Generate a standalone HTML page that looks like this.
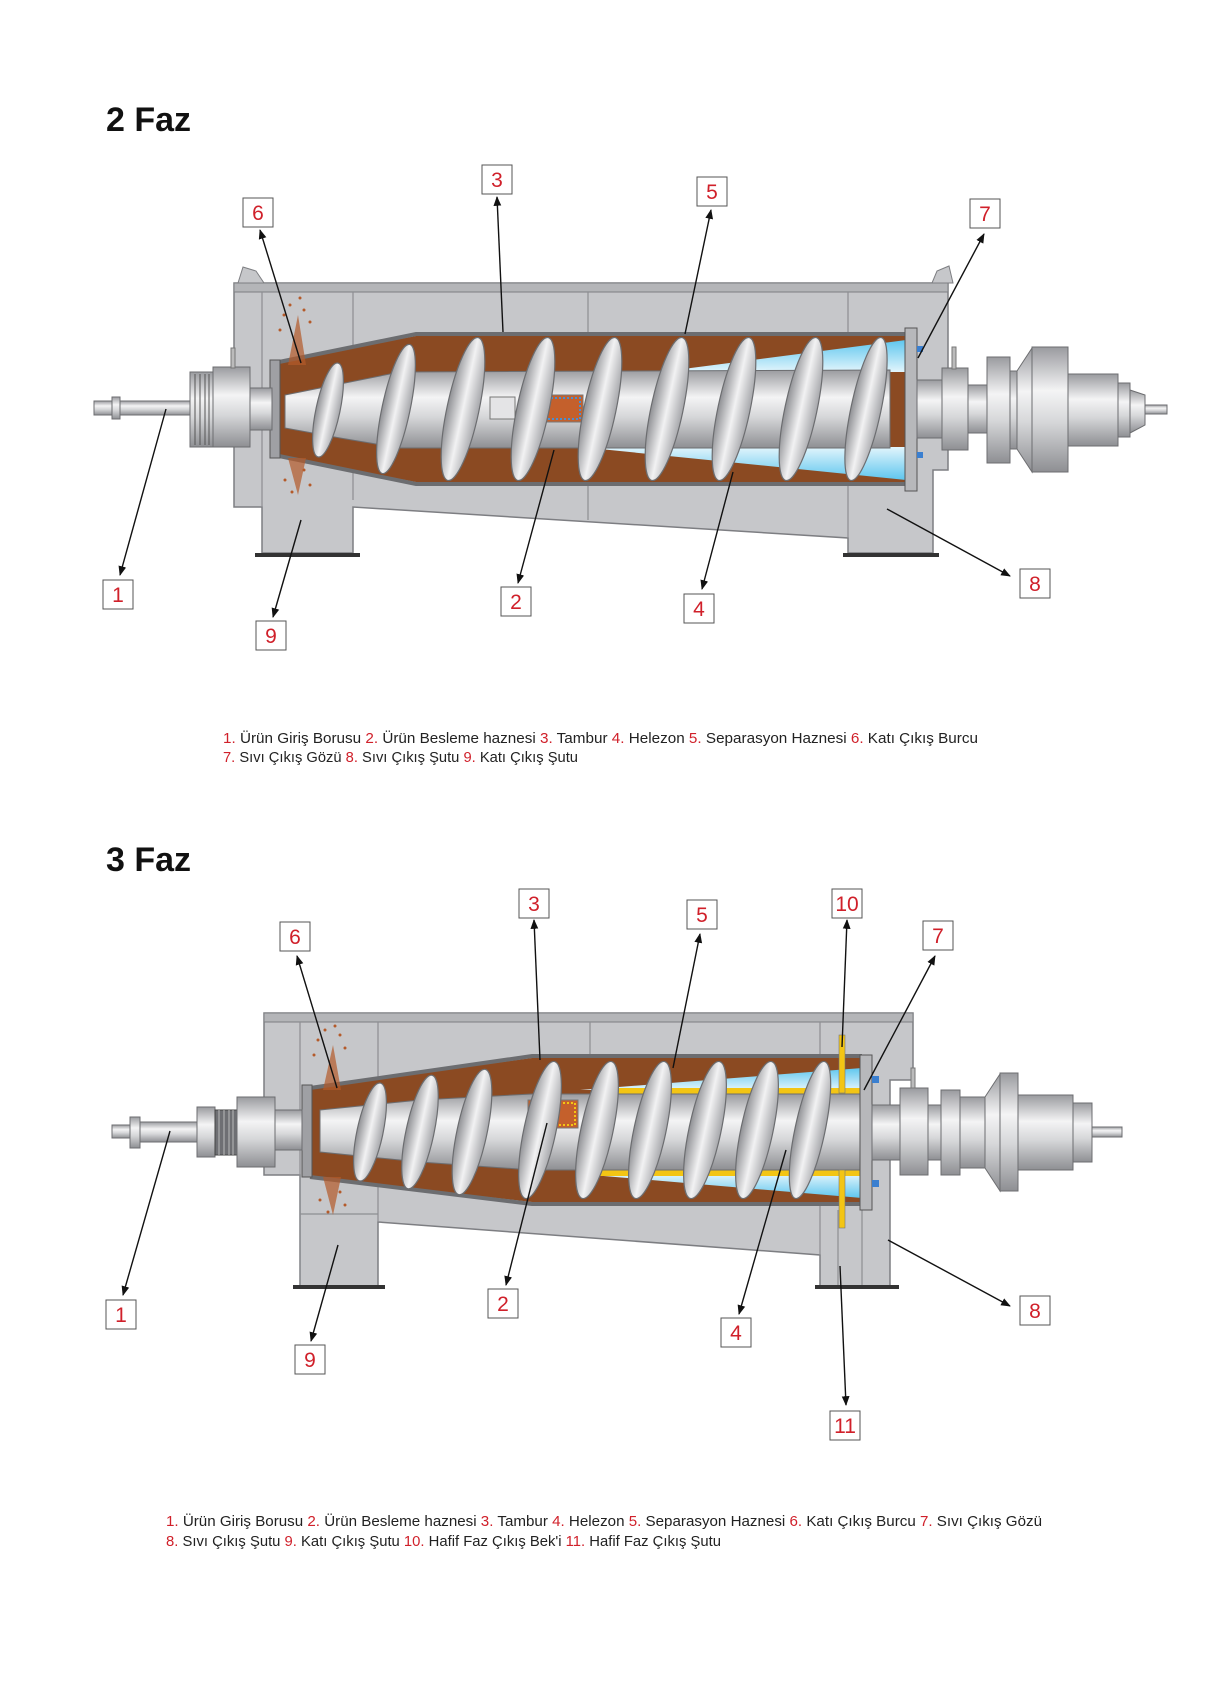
<!DOCTYPE html>
<html><head><meta charset="utf-8"><style>
html,body{margin:0;padding:0;background:#fff;}
svg{display:block;}
text{font-family:"Liberation Sans",sans-serif;}
.n{fill:#d0202a;font-size:21px;text-anchor:middle;}
.b{fill:#fff;stroke:#555;stroke-width:1;}
.a{stroke:#111;stroke-width:1.4;fill:none;marker-end:url(#ar);}
.lg{font-size:14.5px;fill:#222;}
.r{fill:#d0202a;}
.h{fill:#c6c7ca;stroke:#7d7e82;stroke-width:1.5;}
.hl{stroke:#8d8e92;stroke-width:1.2;fill:none;}
.fl{fill:url(#fg);stroke:#6c6d70;stroke-width:1.2;}
.m{fill:url(#sv);stroke:#6c6d70;stroke-width:1;}
</style></head><body>
<svg width="1209" height="1691" viewBox="0 0 1209 1691" xmlns="http://www.w3.org/2000/svg">
<defs>
<marker id="ar" viewBox="0 0 10 10" refX="9" refY="5" markerWidth="7" markerHeight="7" orient="auto"><path d="M0,1 L10,5 L0,9 z" fill="#111"/></marker>
<linearGradient id="sv" x1="0" y1="0" x2="0" y2="1"><stop offset="0" stop-color="#9a9b9f"/><stop offset="0.35" stop-color="#f4f4f5"/><stop offset="0.6" stop-color="#d6d7d9"/><stop offset="1" stop-color="#8e8f93"/></linearGradient>
<linearGradient id="fg" x1="0" y1="0" x2="1" y2="0"><stop offset="0" stop-color="#8f9094"/><stop offset="0.5" stop-color="#f2f2f3"/><stop offset="1" stop-color="#a5a6aa"/></linearGradient>
<linearGradient id="bl" x1="0" y1="0" x2="0" y2="1"><stop offset="0" stop-color="#5ec6ee"/><stop offset="1" stop-color="#e2f5fc"/></linearGradient>
<linearGradient id="bl2" x1="0" y1="1" x2="0" y2="0"><stop offset="0" stop-color="#5ec6ee"/><stop offset="1" stop-color="#e2f5fc"/></linearGradient>
</defs>

<text x="106" y="131" style="font-size:34px;font-weight:bold;fill:#111">2 Faz</text>

<g>
<polygon class="h" points="234,283 948,283 948,470 933,470 933,553 848,553 848,538 353,507 353,553 262,553 262,507 234,507"/>
<rect x="234" y="283" width="714" height="9" fill="#b4b5b8" stroke="#7d7e82"/>
<path d="M238,283 l5,-16 l13,4 l8,12 z M932,283 l5,-12 l12,-5 l4,17 z" fill="#c6c7ca" stroke="#7d7e82"/>
<line class="hl" x1="262" y1="292" x2="262" y2="507"/><line class="hl" x1="353" y1="292" x2="353" y2="500"/>
<line class="hl" x1="588" y1="292" x2="588" y2="336"/><line class="hl" x1="848" y1="292" x2="848" y2="538"/>
<line class="hl" x1="588" y1="482" x2="588" y2="520"/>
<rect x="255" y="553" width="105" height="4" fill="#333"/><rect x="843" y="553" width="96" height="4" fill="#333"/>
<polygon points="274,363 416,336 906,336 906,482 416,482 274,455" fill="#8b4a22"/>
<polygon points="660,372 906,340 906,372" fill="url(#bl)"/>
<polygon points="580,447 906,447 906,480" fill="url(#bl2)"/>
<path d="M274,363 L416,334 L906,334" stroke="#6c6d70" stroke-width="4" fill="none"/>
<path d="M274,455 L416,484 L906,484" stroke="#6c6d70" stroke-width="4" fill="none"/>
<rect x="270" y="360" width="10" height="98" fill="#9fa0a4" stroke="#555"/>
<polygon class="m" points="285,395 340,384 400,372 890,370 890,448 400,448 340,438 285,428"/>
<rect x="490" y="397" width="25" height="22" fill="#e4e4e6" stroke="#777"/>
<rect x="528" y="395" width="55" height="27" fill="#c4602c" stroke="#777"/>
<rect x="531" y="398" width="49" height="21" fill="none" stroke="#4a8ed0" stroke-dasharray="2,2" stroke-width="2"/>
<g>
<ellipse class="fl" cx="328" cy="410" rx="12" ry="48" transform="rotate(12 328 410)"/>
<ellipse class="fl" cx="396" cy="409" rx="14" ry="66" transform="rotate(12 396 409)"/>
<ellipse class="fl" cx="463" cy="409" rx="16" ry="73" transform="rotate(12 463 409)"/>
<ellipse class="fl" cx="533" cy="409" rx="16" ry="73" transform="rotate(12 533 409)"/>
<ellipse class="fl" cx="600" cy="409" rx="16" ry="73" transform="rotate(12 600 409)"/>
<ellipse class="fl" cx="667" cy="409" rx="16" ry="73" transform="rotate(12 667 409)"/>
<ellipse class="fl" cx="734" cy="409" rx="16" ry="73" transform="rotate(12 734 409)"/>
<ellipse class="fl" cx="801" cy="409" rx="16" ry="73" transform="rotate(12 801 409)"/>
<ellipse class="fl" cx="866" cy="409" rx="15" ry="73" transform="rotate(12 866 409)"/>
</g>
<rect x="905" y="328" width="12" height="163" fill="#b7b8bb" stroke="#555"/>
<rect x="917" y="346" width="6" height="6" fill="#3a7fd0"/><rect x="917" y="452" width="6" height="6" fill="#3a7fd0"/>
<path d="M288,365 L298,315 L306,365 z M288,458 L298,495 L306,458 z" fill="#b45a2a" opacity="0.7"/>
<g fill="#b45a2a"><circle cx="284" cy="315" r="1.5"/><circle cx="290" cy="305" r="1.5"/><circle cx="304" cy="310" r="1.5"/><circle cx="310" cy="322" r="1.5"/><circle cx="280" cy="330" r="1.5"/><circle cx="300" cy="298" r="1.5"/><circle cx="285" cy="480" r="1.5"/><circle cx="310" cy="485" r="1.5"/><circle cx="292" cy="492" r="1.5"/><circle cx="304" cy="470" r="1.5"/></g>
<rect class="m" x="94" y="401" width="96" height="14"/>
<rect class="m" x="112" y="397" width="8" height="22"/>
<rect class="m" x="190" y="372" width="23" height="75"/>
<g stroke="#555"><line x1="195" y1="374" x2="195" y2="445"/><line x1="200" y1="374" x2="200" y2="445"/><line x1="205" y1="374" x2="205" y2="445"/><line x1="209" y1="374" x2="209" y2="445"/></g>
<rect class="m" x="213" y="367" width="37" height="80"/>
<rect class="m" x="250" y="388" width="22" height="42"/>
<rect x="231" y="348" width="4" height="20" fill="#bbb" stroke="#777"/>
<rect class="m" x="917" y="380" width="25" height="58"/>
<rect class="m" x="942" y="368" width="26" height="82"/>
<rect x="952" y="347" width="4" height="22" fill="#bbb" stroke="#777"/>
<rect class="m" x="968" y="385" width="19" height="48"/>
<rect class="m" x="987" y="357" width="23" height="106"/>
<rect class="m" x="1010" y="371" width="7" height="78"/>
<polygon class="m" points="1017,371 1032,348 1032,472 1017,449"/>
<rect class="m" x="1032" y="347" width="36" height="125"/>
<rect class="m" x="1068" y="374" width="50" height="72"/>
<rect class="m" x="1118" y="383" width="12" height="54"/>
<polygon class="m" points="1130,390 1145,395 1145,425 1130,433"/>
<rect class="m" x="1145" y="405" width="22" height="9"/>
</g>

<line class="a" x1="301" y1="363" x2="260" y2="230"/>
<line class="a" x1="503" y1="332" x2="497" y2="197"/>
<line class="a" x1="685" y1="334" x2="711" y2="210"/>
<line class="a" x1="918" y1="358" x2="984" y2="234"/>
<line class="a" x1="166" y1="409" x2="120" y2="575"/>
<line class="a" x1="301" y1="520" x2="273" y2="617"/>
<line class="a" x1="554" y1="450" x2="518" y2="583"/>
<line class="a" x1="733" y1="472" x2="702" y2="589"/>
<line class="a" x1="887" y1="509" x2="1010" y2="576"/>
<g>
<rect class="b" x="243" y="198" width="30" height="29"/><text class="n" x="258" y="220">6</text>
<rect class="b" x="482" y="165" width="30" height="29"/><text class="n" x="497" y="187">3</text>
<rect class="b" x="697" y="177" width="30" height="29"/><text class="n" x="712" y="199">5</text>
<rect class="b" x="970" y="199" width="30" height="29"/><text class="n" x="985" y="221">7</text>
<rect class="b" x="103" y="580" width="30" height="29"/><text class="n" x="118" y="602">1</text>
<rect class="b" x="256" y="621" width="30" height="29"/><text class="n" x="271" y="643">9</text>
<rect class="b" x="501" y="587" width="30" height="29"/><text class="n" x="516" y="609">2</text>
<rect class="b" x="684" y="594" width="30" height="29"/><text class="n" x="699" y="616">4</text>
<rect class="b" x="1020" y="569" width="30" height="29"/><text class="n" x="1035" y="591">8</text>
</g>
<text class="lg" x="223" y="743" textLength="755" lengthAdjust="spacingAndGlyphs"><tspan class="r">1.</tspan> Ürün Giriş Borusu  <tspan class="r">2.</tspan> Ürün Besleme haznesi  <tspan class="r">3.</tspan> Tambur  <tspan class="r">4.</tspan> Helezon  <tspan class="r">5.</tspan> Separasyon Haznesi  <tspan class="r">6.</tspan> Katı Çıkış Burcu</text>
<text class="lg" x="223" y="762" textLength="355" lengthAdjust="spacingAndGlyphs"><tspan class="r">7.</tspan> Sıvı Çıkış Gözü  <tspan class="r">8.</tspan> Sıvı Çıkış Şutu  <tspan class="r">9.</tspan> Katı Çıkış Şutu</text>

<text x="106" y="871" style="font-size:34px;font-weight:bold;fill:#111">3 Faz</text>

<g>
<polygon class="h" points="264,1013 913,1013 913,1080 890,1080 890,1287 820,1287 820,1255 378,1222 378,1287 300,1287 300,1175 264,1175"/>
<rect x="264" y="1013" width="649" height="9" fill="#b4b5b8" stroke="#7d7e82"/>
<line class="hl" x1="300" y1="1022" x2="300" y2="1287"/><line class="hl" x1="378" y1="1022" x2="378" y2="1222"/>
<line class="hl" x1="590" y1="1022" x2="590" y2="1058"/><line class="hl" x1="820" y1="1022" x2="820" y2="1255"/>
<line class="hl" x1="300" y1="1214" x2="378" y2="1214"/>
<line class="hl" x1="838" y1="1210" x2="838" y2="1287"/><line class="hl" x1="862" y1="1210" x2="862" y2="1287"/>
<rect x="293" y="1285" width="92" height="4" fill="#333"/><rect x="815" y="1285" width="84" height="4" fill="#333"/>
<polygon points="310,1088 532,1058 862,1058 862,1202 532,1202 310,1177" fill="#8b4a22"/>
<polygon points="580,1090 862,1068 862,1090" fill="url(#bl)"/>
<polygon points="580,1174 862,1174 862,1198" fill="url(#bl2)"/>
<rect x="600" y="1088" width="262" height="6" fill="#f3c514"/>
<rect x="600" y="1170" width="262" height="6" fill="#f3c514"/>
<path d="M310,1088 L532,1056 L862,1056" stroke="#6c6d70" stroke-width="4" fill="none"/>
<path d="M310,1177 L532,1204 L862,1204" stroke="#6c6d70" stroke-width="4" fill="none"/>
<rect x="302" y="1085" width="10" height="92" fill="#9fa0a4" stroke="#555"/>
<polygon class="m" points="320,1110 420,1100 532,1094 862,1094 862,1170 532,1170 420,1162 320,1152"/>
<rect x="528" y="1100" width="50" height="28" fill="#c4602c" stroke="#777"/>
<rect x="531" y="1103" width="44" height="22" fill="none" stroke="#f3c514" stroke-dasharray="2,2" stroke-width="2"/>
<g>
<ellipse class="fl" cx="370" cy="1132" rx="13" ry="50" transform="rotate(12 370 1132)"/>
<ellipse class="fl" cx="420" cy="1132" rx="14" ry="58" transform="rotate(12 420 1132)"/>
<ellipse class="fl" cx="472" cy="1132" rx="15" ry="64" transform="rotate(12 472 1132)"/>
<ellipse class="fl" cx="540" cy="1130" rx="16" ry="70" transform="rotate(12 540 1130)"/>
<ellipse class="fl" cx="597" cy="1130" rx="16" ry="70" transform="rotate(12 597 1130)"/>
<ellipse class="fl" cx="650" cy="1130" rx="16" ry="70" transform="rotate(12 650 1130)"/>
<ellipse class="fl" cx="705" cy="1130" rx="16" ry="70" transform="rotate(12 705 1130)"/>
<ellipse class="fl" cx="757" cy="1130" rx="16" ry="70" transform="rotate(12 757 1130)"/>
<ellipse class="fl" cx="810" cy="1130" rx="15" ry="70" transform="rotate(12 810 1130)"/>
</g>
<rect x="860" y="1055" width="12" height="155" fill="#b7b8bb" stroke="#555"/>
<rect x="872" y="1076" width="7" height="7" fill="#3a7fd0"/><rect x="872" y="1180" width="7" height="7" fill="#3a7fd0"/>
<rect x="839" y="1035" width="6" height="58" fill="#f3c514" stroke="#777" stroke-width="0.6"/>
<rect x="839" y="1170" width="6" height="58" fill="#f3c514" stroke="#777" stroke-width="0.6"/>
<path d="M323,1090 L333,1045 L341,1090 z M323,1177 L333,1215 L341,1177 z" fill="#b45a2a" opacity="0.7"/>
<g fill="#b45a2a"><circle cx="318" cy="1040" r="1.5"/><circle cx="325" cy="1030" r="1.5"/><circle cx="340" cy="1035" r="1.5"/><circle cx="345" cy="1048" r="1.5"/><circle cx="314" cy="1055" r="1.5"/><circle cx="335" cy="1026" r="1.5"/><circle cx="320" cy="1200" r="1.5"/><circle cx="345" cy="1205" r="1.5"/><circle cx="328" cy="1212" r="1.5"/><circle cx="340" cy="1192" r="1.5"/></g>
<rect class="m" x="112" y="1125" width="85" height="13"/>
<rect class="m" x="130" y="1117" width="10" height="31"/>
<rect class="m" x="140" y="1122" width="57" height="20"/>
<rect class="m" x="197" y="1107" width="18" height="50"/>
<rect x="215" y="1110" width="22" height="45" fill="#6e6f73" stroke="#444"/>
<g stroke="#bbb"><line x1="219" y1="1110" x2="219" y2="1155"/><line x1="224" y1="1110" x2="224" y2="1155"/><line x1="229" y1="1110" x2="229" y2="1155"/><line x1="233" y1="1110" x2="233" y2="1155"/></g>
<rect class="m" x="237" y="1097" width="38" height="70"/>
<rect class="m" x="275" y="1110" width="27" height="40"/>
<rect class="m" x="872" y="1105" width="28" height="55"/>
<rect class="m" x="900" y="1088" width="28" height="87"/>
<rect x="911" y="1068" width="4" height="20" fill="#bbb" stroke="#777"/>
<rect class="m" x="928" y="1105" width="13" height="55"/>
<rect class="m" x="941" y="1090" width="19" height="85"/>
<rect class="m" x="960" y="1097" width="25" height="71"/>
<polygon class="m" points="985,1097 1000,1074 1000,1191 985,1168"/>
<rect class="m" x="1000" y="1073" width="18" height="118"/>
<rect class="m" x="1018" y="1095" width="55" height="75"/>
<rect class="m" x="1073" y="1103" width="19" height="59"/>
<rect class="m" x="1092" y="1127" width="30" height="10"/>
</g>

<line class="a" x1="337" y1="1088" x2="297" y2="956"/>
<line class="a" x1="540" y1="1060" x2="534" y2="920"/>
<line class="a" x1="673" y1="1068" x2="700" y2="934"/>
<line class="a" x1="842" y1="1047" x2="847" y2="920"/>
<line class="a" x1="864" y1="1090" x2="935" y2="956"/>
<line class="a" x1="170" y1="1131" x2="123" y2="1295"/>
<line class="a" x1="338" y1="1245" x2="311" y2="1341"/>
<line class="a" x1="547" y1="1123" x2="506" y2="1285"/>
<line class="a" x1="786" y1="1150" x2="739" y2="1314"/>
<line class="a" x1="888" y1="1240" x2="1010" y2="1306"/>
<line class="a" x1="840" y1="1266" x2="846" y2="1405"/>
<g>
<rect class="b" x="280" y="922" width="30" height="29"/><text class="n" x="295" y="944">6</text>
<rect class="b" x="519" y="889" width="30" height="29"/><text class="n" x="534" y="911">3</text>
<rect class="b" x="687" y="900" width="30" height="29"/><text class="n" x="702" y="922">5</text>
<rect class="b" x="832" y="889" width="30" height="29"/><text class="n" x="847" y="911">10</text>
<rect class="b" x="923" y="921" width="30" height="29"/><text class="n" x="938" y="943">7</text>
<rect class="b" x="106" y="1300" width="30" height="29"/><text class="n" x="121" y="1322">1</text>
<rect class="b" x="295" y="1345" width="30" height="29"/><text class="n" x="310" y="1367">9</text>
<rect class="b" x="488" y="1289" width="30" height="29"/><text class="n" x="503" y="1311">2</text>
<rect class="b" x="721" y="1318" width="30" height="29"/><text class="n" x="736" y="1340">4</text>
<rect class="b" x="1020" y="1296" width="30" height="29"/><text class="n" x="1035" y="1318">8</text>
<rect class="b" x="830" y="1411" width="30" height="29"/><text class="n" x="845" y="1433">11</text>
</g>
<text class="lg" x="166" y="1526" textLength="876" lengthAdjust="spacingAndGlyphs"><tspan class="r">1.</tspan> Ürün Giriş Borusu  <tspan class="r">2.</tspan> Ürün Besleme haznesi  <tspan class="r">3.</tspan> Tambur  <tspan class="r">4.</tspan> Helezon  <tspan class="r">5.</tspan> Separasyon Haznesi  <tspan class="r">6.</tspan> Katı Çıkış Burcu  <tspan class="r">7.</tspan> Sıvı Çıkış Gözü</text>
<text class="lg" x="166" y="1546" textLength="555" lengthAdjust="spacingAndGlyphs"><tspan class="r">8.</tspan> Sıvı Çıkış Şutu  <tspan class="r">9.</tspan> Katı Çıkış Şutu  <tspan class="r">10.</tspan> Hafif Faz Çıkış Bek'i  <tspan class="r">11.</tspan> Hafif Faz Çıkış Şutu</text>
</svg>
</body></html>
